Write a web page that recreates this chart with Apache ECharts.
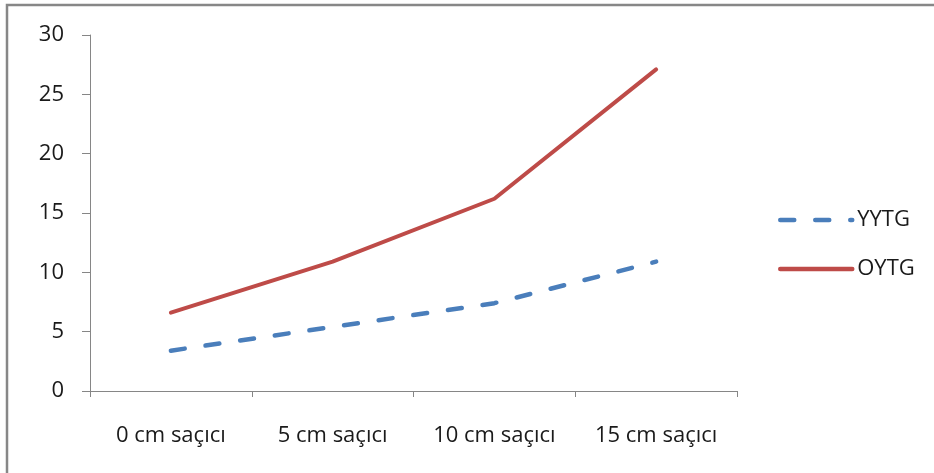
<!DOCTYPE html>
<html><head><meta charset="utf-8">
<script src="https://cdn.jsdelivr.net/npm/echarts@6/dist/echarts.min.js"></script>
<style>html,body{margin:0;padding:0;background:#fff}#c{width:934px;height:473px}</style>
</head><body><div id="c"></div>
<script>
const categories = ['0 cm saçıcı', '5 cm saçıcı', '10 cm saçıcı', '15 cm saçıcı'];
const yytg = [3.4, 5.4, 7.4, 10.9];
const oytg = [6.6, 10.9, 16.2, 27.1];
const yTicks = [0, 5, 10, 15, 20, 25, 30];

const font = 'Open Sans';
const chart = echarts.init(document.getElementById('c'), null, {renderer: 'canvas'});
chart.setOption({
  animation: false,
  backgroundColor: '#fff',
  graphic: [{
    type: 'rect', shape: {x: 7, y: 5, width: 940, height: 480},
    style: {fill: 'none', stroke: '#878787', lineWidth: 2.5}, silent: true
  }],
  grid: {left: 90, right: 197, top: 35, bottom: 82, containLabel: false},
  legend: {
    orient: 'vertical', left: 773, top: 204, itemWidth: 72, itemHeight: 22, itemGap: 27,
    itemStyle: {opacity: 0},
    lineStyle: {width: 4.5},
    textStyle: {fontFamily: font, fontSize: 22, color: '#1a1a1a'},
    data: ['YYTG', 'OYTG']
  },
  xAxis: {
    type: 'category', data: categories, boundaryGap: true,
    axisLine: {lineStyle: {color: '#868686', width: 1}},
    axisTick: {show: true, length: 6, lineStyle: {color: '#868686'}},
    axisLabel: {fontFamily: font, fontSize: 22, color: '#1a1a1a', margin: 34}
  },
  yAxis: {
    type: 'value', min: 0, max: 30, interval: 5,
    axisLine: {show: true, lineStyle: {color: '#868686'}},
    axisTick: {show: true, length: 8, inside: false, lineStyle: {color: '#868686'}},
    splitLine: {show: false},
    axisLabel: {fontFamily: font, fontSize: 22, color: '#1a1a1a', margin: 26,
      formatter: v => yTicks.includes(v) ? String(v) : ''}
  },
  series: [
    {name: 'YYTG', type: 'line', data: yytg, symbol: 'none',
     itemStyle: {color: '#4A7EBB'},
     lineStyle: {color: '#4A7EBB', width: 4.5, type: [14, 21], cap: 'round'}},
    {name: 'OYTG', type: 'line', data: oytg, symbol: 'none',
     itemStyle: {color: '#BE4B48'},
     lineStyle: {color: '#BE4B48', width: 4, cap: 'round'}}
  ]
});
</script></body></html>
